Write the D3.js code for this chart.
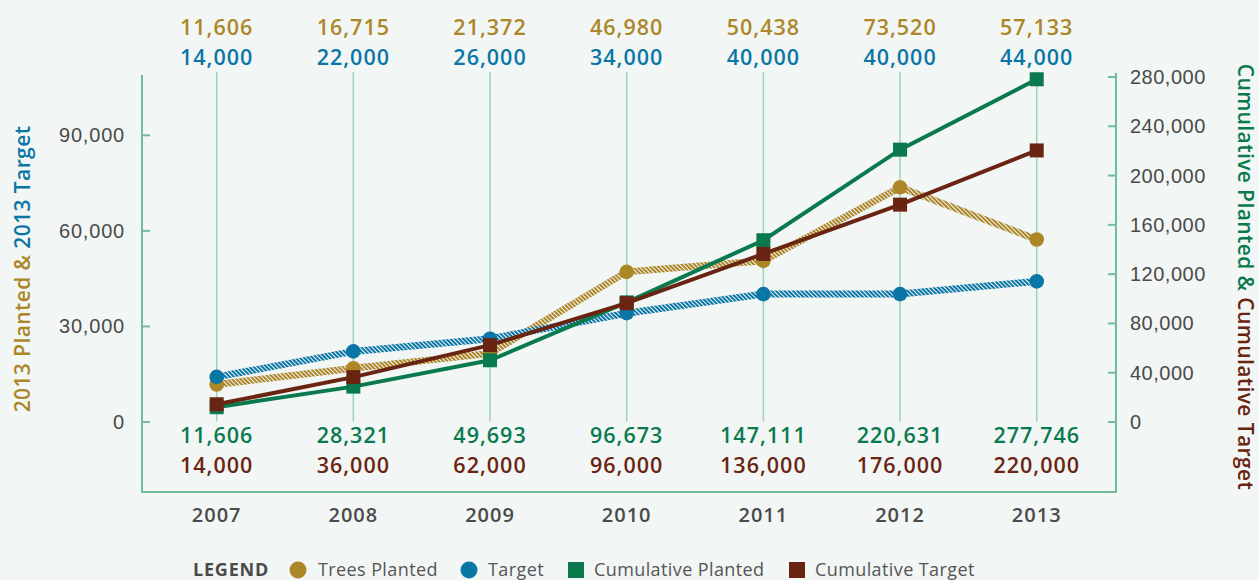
<!DOCTYPE html>
<html>
<head>
<meta charset="utf-8">
<script src="https://cdn.jsdelivr.net/npm/d3@7"></script>
<style>
  body { margin: 0; background: #f2f6f5; }
  svg { display: block; font-family: 'Open Sans', sans-serif; }
</style>
</head>
<body>
<div id="chart"></div>
<script>
// data
const years = ['2007', '2008', '2009', '2010', '2011', '2012', '2013']
const treesPlanted = [11606, 16715, 21372, 46980, 50438, 73520, 57133]
const target = [14000, 22000, 26000, 34000, 40000, 40000, 44000]
const cumPlanted = [11606, 28321, 49693, 96673, 147111, 220631, 277746]
const cumTarget = [14000, 36000, 62000, 96000, 136000, 176000, 220000]
const leftTicks = [0, 30000, 60000, 90000]
const rightTicks = [0, 40000, 80000, 120000, 160000, 200000, 240000, 280000]

const width = 1259
const height = 580
const plotLeft = 142, plotRight = 1116, plotTop = 73, plotBottom = 492, zeroY = 421.5

const gold = '#ad8628', blue = '#0a76a6', green = '#0a7a4e', brown = '#6a2412'
const axisCol = '#6dbe99', gridCol = '#9fd2ba', textCol = '#4a4a4a'

const fmt = d3.format(',')

const svg = d3.select('#chart').append('svg')
  .attr('width', width)
  .attr('height', height)

svg.append('rect').attr('width', width).attr('height', height).attr('fill', '#f2f6f5')

// years sit a little left of centre between the two axes
const x = d3.scalePoint().domain(years).range([plotLeft - 2.2, plotRight - 2.4]).padding(0.5625)
const yLeft = d3.scaleLinear().domain([0, 109400]).range([zeroY, plotTop])
const yRight = d3.scaleLinear().domain([0, 280000]).range([zeroY, plotTop + 3.5])

// hatch patterns for the two annual series
const defs = svg.append('defs')
function hatch(id, col) {
  const p = defs.append('pattern')
    .attr('id', id)
    .attr('patternUnits', 'userSpaceOnUse')
    .attr('width', 3)
    .attr('height', 3)
    .attr('patternTransform', 'rotate(-45)')
  p.append('rect').attr('width', 3).attr('height', 3).attr('fill', '#f2f6f5')
  p.append('rect').attr('width', 2).attr('height', 3).attr('fill', col)
}
hatch('hatchGold', gold)
hatch('hatchBlue', blue)

// vertical grid lines
svg.append('g').selectAll('line')
  .data(years)
  .join('line')
  .attr('x1', d => x(d)).attr('x2', d => x(d))
  .attr('y1', plotTop - 1).attr('y2', zeroY)
  .attr('stroke', gridCol)
  .attr('stroke-width', 1.5)

// frame
const frame = svg.append('g').attr('stroke', axisCol).attr('stroke-width', 2).attr('fill', 'none')
frame.append('path').attr('d', `M${plotLeft},${plotTop + 2}V${plotBottom}H${plotRight}V${plotTop}`)

// left axis
const gLeft = svg.append('g')
  .attr('transform', `translate(${plotLeft},0)`)
  .call(d3.axisLeft(yLeft).tickValues(leftTicks).tickFormat(fmt).tickSizeInner(-8).tickSizeOuter(0).tickPadding(17))
gLeft.select('.domain').remove()
gLeft.selectAll('line').attr('stroke', axisCol).attr('stroke-width', 2)
gLeft.selectAll('text').attr('fill', textCol).style('font-size', '20px').style('letter-spacing', '0.8px').attr('dy', '0.35em')

// right axis
const gRight = svg.append('g')
  .attr('transform', `translate(${plotRight},0)`)
  .call(d3.axisRight(yRight).tickValues(rightTicks).tickFormat(fmt).tickSizeInner(-8).tickSizeOuter(0).tickPadding(14))
gRight.select('.domain').remove()
gRight.selectAll('line').attr('stroke', axisCol).attr('stroke-width', 2)
gRight.selectAll('text').attr('fill', textCol).style('font-size', '20px').style('letter-spacing', '0.5px').attr('dy', '0.35em')

// year labels
svg.append('g').selectAll('text')
  .data(years)
  .join('text')
  .attr('x', d => x(d))
  .attr('y', 515)
  .attr('dy', '0.35em')
  .attr('text-anchor', 'middle')
  .attr('fill', textCol)
  .style('font-size', '20px')
  .style('font-weight', 600)
  .style('letter-spacing', '1px')
  .text(d => d)

// value labels above and below the plot
function valueLabels(values, y, col) {
  svg.append('g').selectAll('text')
    .data(values)
    .join('text')
    .attr('x', (d, i) => x(years[i]))
    .attr('y', y)
    .attr('dy', '0.35em')
    .attr('text-anchor', 'middle')
    .attr('fill', col)
    .style('font-size', '21.5px')
    .style('font-weight', 600)
    .style('letter-spacing', '1px')
    .text(d => fmt(d))
}
valueLabels(treesPlanted, 27, gold)
valueLabels(target, 57, blue)
valueLabels(cumPlanted, 435, green)
valueLabels(cumTarget, 465, brown)

// series
function series(values, scale, col, stroke, strokeW, shape) {
  const g = svg.append('g')
  const line = d3.line().x((d, i) => x(years[i])).y(d => scale(d))
  g.append('path')
    .datum(values)
    .attr('d', line)
    .attr('fill', 'none')
    .attr('stroke', stroke)
    .attr('stroke-width', strokeW)
  if (shape === 'circle') {
    g.selectAll('circle')
      .data(values)
      .join('circle')
      .attr('cx', (d, i) => x(years[i]))
      .attr('cy', d => scale(d))
      .attr('r', 7.3)
      .attr('fill', col)
  } else {
    g.selectAll('rect')
      .data(values)
      .join('rect')
      .attr('x', (d, i) => x(years[i]) - 7)
      .attr('y', d => scale(d) - 7)
      .attr('width', 14)
      .attr('height', 14)
      .attr('fill', col)
  }
}
series(treesPlanted, yLeft, gold, 'url(#hatchGold)', 7, 'circle')
series(target, yLeft, blue, 'url(#hatchBlue)', 7, 'circle')
series(cumPlanted, yRight, green, green, 4, 'square')
series(cumTarget, yRight, brown, brown, 4, 'square')

// axis titles
const tLeft = svg.append('text')
  .attr('transform', 'translate(23,269) rotate(-90)')
  .attr('text-anchor', 'middle')
  .attr('dy', '0.35em')
  .style('font-size', '21px')
  .style('font-weight', 600)
  .style('letter-spacing', '0.4px')
tLeft.append('tspan').attr('fill', gold).text('2013 Planted & ')
tLeft.append('tspan').attr('fill', blue).text('2013 Target')

const tRight = svg.append('text')
  .attr('transform', 'translate(1245,277) rotate(90)')
  .attr('text-anchor', 'middle')
  .attr('dy', '0.35em')
  .style('font-size', '21px')
  .style('font-weight', 600)
  .style('letter-spacing', '0.4px')
tRight.append('tspan').attr('fill', green).text('Cumulative Planted & ')
tRight.append('tspan').attr('fill', brown).text('Cumulative Target')

// legend
const legendItems = [
  { name: 'Trees Planted', colour: gold, shape: 'circle', x: 298, tx: 318 },
  { name: 'Target', colour: blue, shape: 'circle', x: 469, tx: 488 },
  { name: 'Cumulative Planted', colour: green, shape: 'square', x: 576, tx: 594 },
  { name: 'Cumulative Target', colour: brown, shape: 'square', x: 797, tx: 815 }
]
const gLegend = svg.append('g')
const ly = 570
gLegend.append('text')
  .attr('x', 193).attr('y', ly).attr('dy', '0.35em')
  .attr('fill', textCol)
  .style('font-size', '18px')
  .style('font-weight', 700)
  .style('letter-spacing', '0.8px')
  .text('LEGEND')
legendItems.forEach(d => {
  if (d.shape === 'circle') {
    gLegend.append('circle').attr('cx', d.x).attr('cy', ly).attr('r', 8.5).attr('fill', d.colour)
  } else {
    gLegend.append('rect').attr('x', d.x - 8).attr('y', ly - 8).attr('width', 16).attr('height', 16).attr('fill', d.colour)
  }
  gLegend.append('text')
    .attr('x', d.tx).attr('y', ly).attr('dy', '0.35em')
    .attr('fill', '#555')
    .style('font-size', '18px')
    .style('letter-spacing', '0.4px')
    .text(d.name)
})
</script>
</body>
</html>
